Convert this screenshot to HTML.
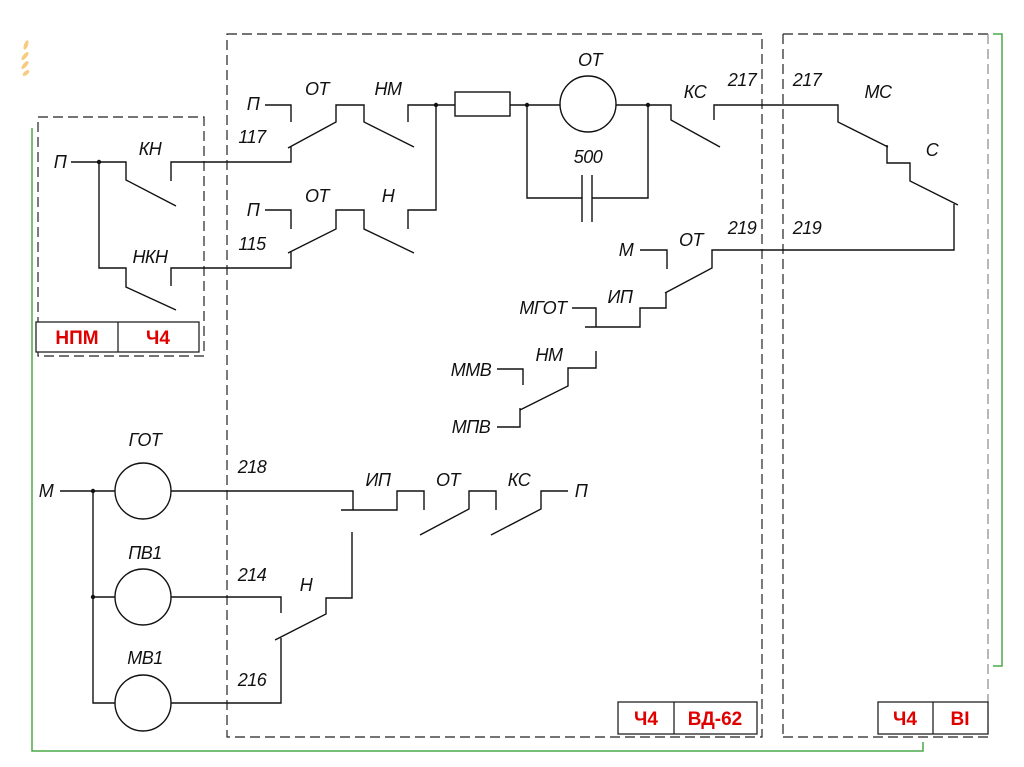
<!DOCTYPE html>
<html><head><meta charset="utf-8"><style>
html,body{margin:0;padding:0;background:#fff;}
svg{display:block;}
text{font-family:"Liberation Sans",sans-serif;font-style:italic;font-size:18px;fill:#111;text-anchor:middle;letter-spacing:-0.5px;}
.r{font-style:normal;font-weight:bold;fill:#e00000;font-size:19px;letter-spacing:0;}
</style></head><body>
<svg width="1024" height="767" viewBox="0 0 1024 767" xmlns="http://www.w3.org/2000/svg">
<rect width="1024" height="767" fill="#fff"/>
<g fill="#f5c060" opacity="0.8"><ellipse cx="26" cy="45" rx="2" ry="5" transform="rotate(20 26 45)"/><ellipse cx="25" cy="56" rx="2" ry="5" transform="rotate(40 25 56)"/><ellipse cx="25" cy="65" rx="2" ry="5" transform="rotate(40 25 65)"/><ellipse cx="26" cy="73" rx="2" ry="4" transform="rotate(50 26 73)"/></g>
<g fill="none" stroke="#4aa84a" stroke-width="1.5">
<polyline points="32,128 32,751 923,751 923,742"/>
<polyline points="993,34 1002,34 1002,666 993,666"/>
</g>
<g fill="none" stroke="#222" stroke-width="1.2" stroke-dasharray="10,5">
<rect x="38" y="117" width="166" height="239"/>
<rect x="227" y="34" width="535" height="703"/>
<line x1="783" y1="34" x2="988" y2="34"/>
<line x1="783" y1="34" x2="783" y2="737"/>
<line x1="783" y1="737" x2="988" y2="737"/>
<line x1="988" y1="34" x2="988" y2="737" stroke="#888"/>
</g>
<g fill="#fff" stroke="#222" stroke-width="1.3">
<rect x="36" y="322" width="163" height="30"/><line x1="118" y1="322" x2="118" y2="352"/>
<rect x="618" y="702" width="139" height="32"/><line x1="674" y1="702" x2="674" y2="734"/>
<rect x="878" y="702" width="110" height="32"/><line x1="933" y1="702" x2="933" y2="734"/>
</g>
<text class="r" x="77" y="344">НПМ</text><text class="r" x="158" y="344">Ч4</text>
<text class="r" x="646" y="725">Ч4</text><text class="r" x="715" y="725">ВД-62</text>
<text class="r" x="905" y="725">Ч4</text><text class="r" x="960" y="725">ВI</text>
<g fill="none" stroke="#111" stroke-width="1.4">
<polyline points="71,162 126,162 126,180 176,206"/>
<polyline points="99,162 99,268 126,268 126,287 176,310"/>
<polyline points="171,181 171,162 291,162 291,147"/>
<polyline points="288,148 336,122 336,105 364,105 364,122 414,147"/>
<polyline points="265,105 291,105 291,122"/>
<polyline points="408,122 408,105 455,105"/>
<polyline points="171,286 171,268 291,268 291,252"/>
<polyline points="288,253 336,229 336,210 364,210 364,229 414,253"/>
<polyline points="265,210 291,210 291,229"/>
<polyline points="408,229 408,210 436,210 436,105"/>
<rect x="455" y="92" width="55" height="24"/>
<polyline points="510,105 560,105"/>
<circle cx="588" cy="104" r="28"/>
<polyline points="616,105 671,105 671,120 720,147"/>
<polyline points="527,105 527,198 582,198"/>
<polyline points="592,198 648,198 648,105"/>
<line x1="582" y1="175" x2="582" y2="222"/><line x1="592" y1="175" x2="592" y2="222"/>
<polyline points="714,120 714,105 838,105 838,122 888,147"/>
<polyline points="887,145 887,163 910,163 910,181 958,205"/>
<polyline points="954,204 954,250 712,250 712,268 665,293"/>
<polyline points="640,250 667,250 667,269"/>
<polyline points="666,292 666,308 640,308 640,327 585,327"/>
<polyline points="572,308 596,308 596,327"/>
<polyline points="596,351 596,368 568,368 568,386 520,410"/>
<polyline points="520,408 520,427 497,427"/>
<polyline points="497,369 523,369 523,385"/>
<polyline points="60,491 115,491"/>
<polyline points="93,491 93,703 115,703"/>
<line x1="93" y1="597" x2="115" y2="597"/>
<circle cx="143" cy="491" r="28"/><circle cx="143" cy="597" r="28"/><circle cx="143" cy="703" r="28"/>
<polyline points="171,491 353,491 353,510"/>
<polyline points="341,510 397,510 397,491 424,491 424,510"/>
<polyline points="420,535 469,509 469,491 496,491 496,510"/>
<polyline points="491,535 541,509 541,491 568,491"/>
<polyline points="171,597 281,597 281,613"/>
<polyline points="352,532 352,598 326,598 326,614 275,640"/>
<polyline points="281,638 281,703 171,703"/>
</g>
<g fill="#111"><circle cx="99" cy="162" r="2.2"/><circle cx="436" cy="105" r="2.2"/><circle cx="527" cy="105" r="2.2"/><circle cx="648" cy="105" r="2.2"/><circle cx="93" cy="491" r="2.2"/><circle cx="93" cy="597" r="2.2"/></g>
<text x="60" y="168">П</text><text x="150" y="155">КН</text><text x="150" y="263">НКН</text>
<text x="253" y="110">П</text><text x="317" y="95">ОТ</text><text x="388" y="95">НМ</text><text x="252" y="143">117</text>
<text x="253" y="216">П</text><text x="317" y="202">ОТ</text><text x="388" y="202">Н</text><text x="252" y="250">115</text>
<text x="590" y="66">ОТ</text><text x="588" y="163">500</text><text x="695" y="98">КС</text>
<text x="742" y="86">217</text><text x="807" y="86">217</text><text x="878" y="98">МС</text><text x="932" y="156">С</text>
<text x="742" y="234">219</text><text x="807" y="234">219</text><text x="691" y="246">ОТ</text><text x="626" y="256">М</text>
<text x="620" y="303">ИП</text><text x="543" y="314">МГОТ</text>
<text x="549" y="361">НМ</text><text x="471" y="376">ММВ</text><text x="471" y="433">МПВ</text>
<text x="46" y="497">М</text><text x="145" y="446">ГОТ</text><text x="145" y="559">ПВ1</text><text x="145" y="664">МВ1</text>
<text x="252" y="473">218</text><text x="252" y="581">214</text><text x="252" y="686">216</text>
<text x="378" y="486">ИП</text><text x="448" y="486">ОТ</text><text x="519" y="486">КС</text><text x="581" y="497">П</text>
<text x="306" y="591">Н</text>
</svg>
</body></html>
